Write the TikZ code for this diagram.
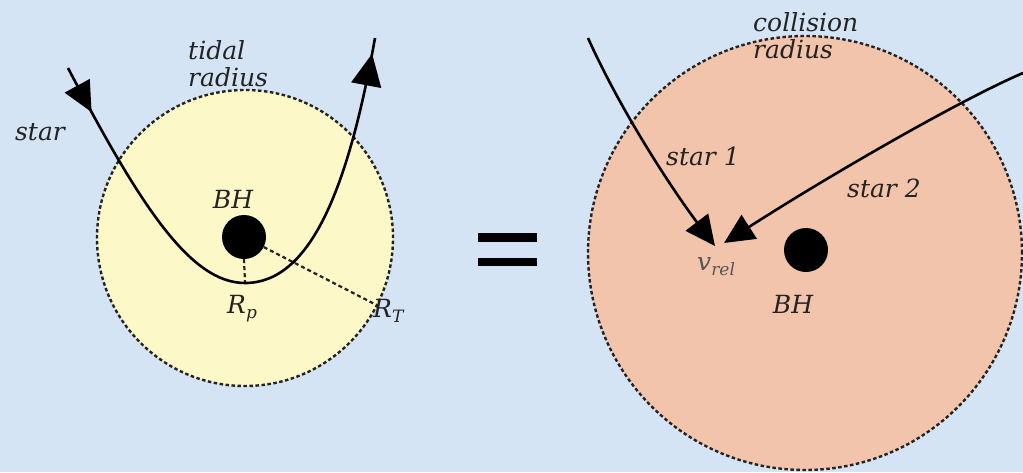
\documentclass[tikz,border=0pt]{standalone}
\usepackage{fontspec}
\setmainfont{DejaVu Serif}
\usetikzlibrary{arrows.meta,decorations.markings}
\definecolor{bgblue}{RGB}{212,228,244}
\definecolor{tidalfill}{RGB}{253,248,200}
\definecolor{collfill}{RGB}{243,196,172}
\definecolor{inkgray}{RGB}{35,35,35}
\definecolor{softgray}{RGB}{85,85,85}
\newcommand{\sub}[1]{\raisebox{-5pt}{\fontsize{17}{17}\selectfont #1}}
\begin{document}
\begin{tikzpicture}[x=1pt,y=-1pt,
 zone/.style={circle, inner sep=0pt, draw=inkgray, line width=2.4pt, dash pattern=on 3.5pt off 2.5pt},
 hole/.style={circle, fill=black, inner sep=0pt, minimum size=44pt},
 lbl/.style={inner sep=0pt, text=inkgray, font=\fontsize{25}{27}\selectfont\itshape},
 orbit/.style={line width=2.6pt, draw=black},
 radline/.style={line width=2.2pt, draw=inkgray, dash pattern=on 4pt off 3pt},
 bigtip/.style={-{Triangle[length=30pt,width=28pt]}}]
\fill[bgblue] (0,0) rectangle (1023,472);
\useasboundingbox (0,0) rectangle (1023,472);

% left: tidal radius
\node[zone, fill=tidalfill, minimum size=296pt] (tidal) at (245,238) {};
\node[hole] (bh1) at (244,237) {};
\coordinate (s0) at (68,68);
\coordinate (peri) at (245,283);
\coordinate (s1) at (375,38);
\draw[radline] (bh1.south) -- (peri);
\draw[radline] (bh1.-27) -- (tidal.-27);
\draw[orbit, postaction={decorate}, decoration={markings,
   mark=at position 50pt with {\arrow{Triangle[length=30pt,width=28pt]}},
   mark=at position -16pt with {\arrow{Triangle[length=32pt,width=30pt]}}}]
  (s0) .. controls (140,205) and (190,283) .. (peri)
       .. controls (310,283) and (348,190) .. (s1);

\node[lbl, anchor=base] (starlbl) at (40,140) {star};
\node[lbl, anchor=north west, align=left] (tidallbl) at (188,40) {tidal\\radius};
\node[lbl, anchor=base] (bh1lbl) at (233,208) {BH};
\node[lbl, anchor=base west] (rplbl) at (227,313) {R\sub{p}};
\node[lbl, anchor=base west] (rtlbl) at (373,317) {R\sub{T}};

% equals sign
\fill[black] (478,233) rectangle (537,242);
\fill[black] (478,258) rectangle (537,266);

% right: collision radius
\node[zone, fill=collfill, minimum size=434pt] (coll) at (805,253) {};
\node[hole] (bh2) at (806,250) {};
\coordinate (a1) at (588,38);
\coordinate (t1) at (715,246);
\coordinate (a2) at (1023,73);
\coordinate (t2) at (724,243);
\draw[orbit, bigtip] (a1) .. controls (625,120) and (680,200) .. (t1);
\draw[orbit, bigtip] (a2) .. controls (960,100) and (830,175) .. (t2);

\node[lbl, anchor=north west, align=left] (colllbl) at (753,12) {collision\\radius};
\node[lbl, anchor=base] (star1lbl) at (703,165) {star 1};
\node[lbl, anchor=base] (star2lbl) at (884,197) {star 2};
\node[lbl, anchor=base west, text=softgray] (vrel) at (697,270) {v\sub{rel}};
\node[lbl, anchor=base] (bh2lbl) at (793,313) {BH};
\end{tikzpicture}
\end{document}
